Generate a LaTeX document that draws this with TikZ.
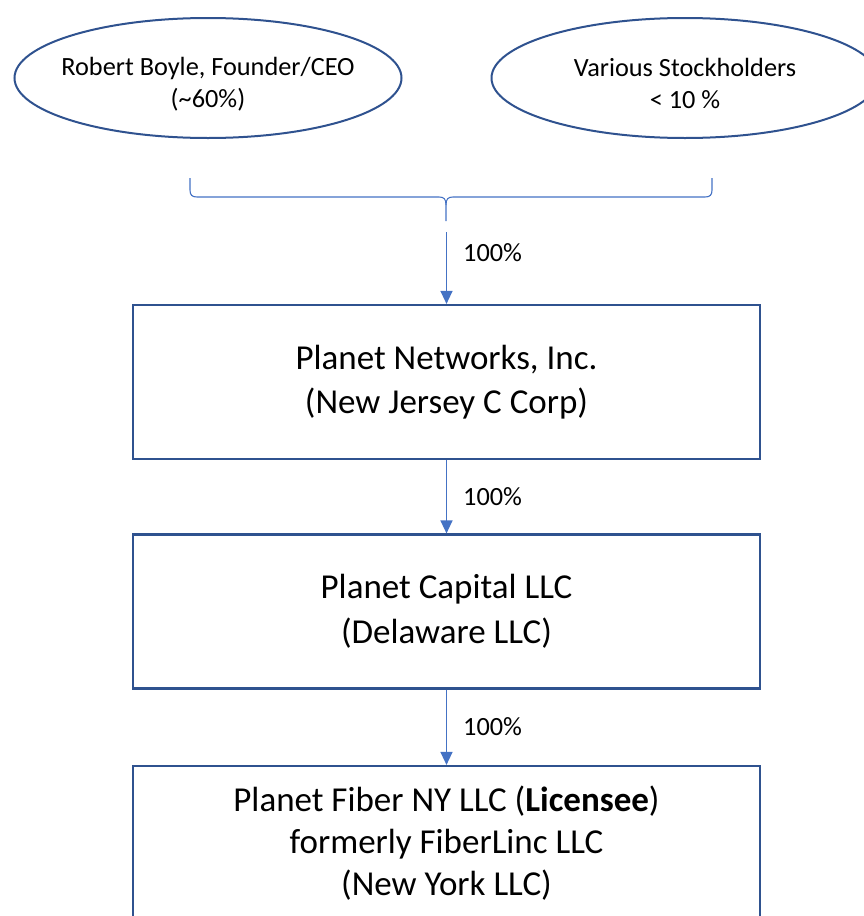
\documentclass[tikz,border=0pt]{standalone}
\usepackage{fontspec}
\setmainfont{Carlito}
\usetikzlibrary{shapes.geometric,arrows.meta}
\definecolor{boxblue}{HTML}{2F528F}
\definecolor{arrblue}{HTML}{4472C4}
\tikzset{
  owner/.style={ellipse, draw=boxblue, line width=2pt, minimum width=387pt, minimum height=120pt, inner xsep=-12pt, inner ysep=0pt, align=center, font=\fontsize{26.3}{32}\selectfont},
  entity/.style={rectangle, draw=boxblue, line width=2.2pt, minimum width=627pt, minimum height=154pt, inner sep=0pt, align=center, font=\fontsize{35}{44.5}\selectfont},
  own/.style={draw=arrblue, line width=1.4pt, -{Triangle[width=12pt,length=13pt]}},
  pct/.style={anchor=west, inner sep=0pt, font=\fontsize{26.3}{32}\selectfont},
  bracestyle/.style={draw=arrblue, line width=1.1pt}
}
\begin{document}
\begin{tikzpicture}[x=1pt,y=-1pt]
\useasboundingbox (0,0) rectangle (863,916);
\node[owner] (rb) at (208,78) {\rule{0pt}{30pt}Robert Boyle, Founder/CEO\\(\textasciitilde60\%)};
\node[owner] (vs) at (685,78) {\rule{0pt}{30pt}Various Stockholders\\< 10 \%};
% brace
\draw[bracestyle] (190,178) -- (190,190) .. controls (190,195) and (192,197) .. (197,197) -- (439,197) .. controls (444,197) and (446,199) .. (446,205) -- (446,221);
\draw[bracestyle] (446,205) .. controls (446,199) and (448,197) .. (453,197) -- (705,197) .. controls (710,197) and (712,195) .. (712,190) -- (712,178);
\coordinate (bt) at (446.5,232);
\node[entity] (pn) at (446.5,382) {Planet Networks, Inc.\\(New Jersey C Corp)};
\node[entity] (pc) at (446.5,611.5) {Planet Capital LLC\\(Delaware LLC)};
\node[entity, font=\fontsize{35}{42}\selectfont] (pf) at (446.5,843) {Planet Fiber NY LLC (\textbf{Licensee})\\formerly FiberLinc LLC\\(New York LLC)};
\draw[own] (bt) -- (pn.north);
\draw[own] (pn.south) -- (pc.north);
\draw[own] (pc.south) -- (pf.north);
\node[pct] (l1) at (463,253) {100\%};
\node[pct] (l2) at (463,497) {100\%};
\node[pct] (l3) at (463,727) {100\%};
\end{tikzpicture}
\end{document}
